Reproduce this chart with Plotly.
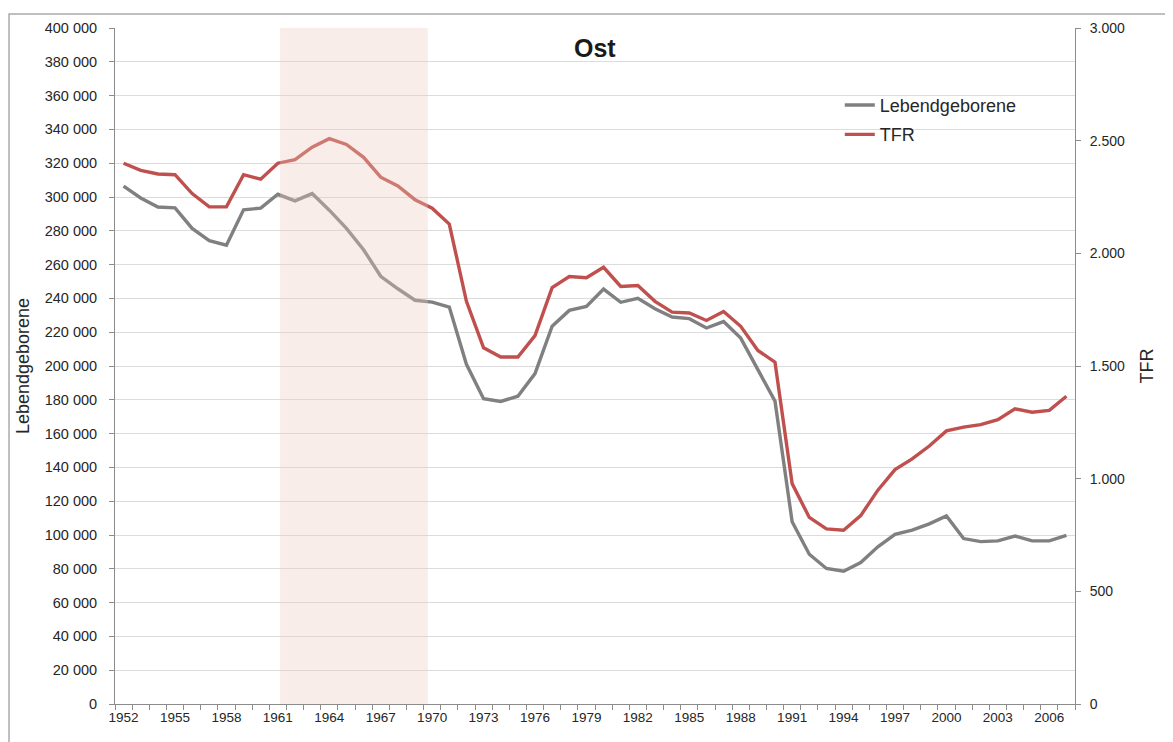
import plotly.graph_objects as go

# ---------------- data ----------------
years = list(range(1952, 2008))

lebendgeborene = [
    306400, 299400, 294100, 293600, 281400, 274200, 271500, 292400, 293400, 301600,
    297700, 302000, 292200, 281400, 268800, 253100, 245700, 238900, 237800, 234900,
    201000, 180600, 179000, 182100, 195500, 223500, 232900, 235200, 245500, 237700,
    240000, 233900, 229000, 228000, 222500, 226300, 216500, 198000, 179200, 107800,
    88600, 80200, 78600, 83700, 93000, 100400, 102900, 106600, 111300, 97900,
    96100, 96500, 99400, 96500, 96500, 99800,
]

tfr = [
    2400, 2368, 2352, 2349, 2265, 2206, 2206, 2349, 2329, 2400,
    2416, 2471, 2509, 2483, 2426, 2338, 2299, 2238, 2200, 2130,
    1787, 1581, 1540, 1540, 1635, 1848, 1897, 1892, 1938, 1853,
    1857, 1787, 1739, 1735, 1702, 1742, 1676, 1569, 1517, 978,
    828, 777, 771, 836, 949, 1040, 1088, 1145, 1212, 1229,
    1240, 1262, 1310, 1295, 1303, 1366,
]

shade_start, shade_end = 1961.13, 1969.75

left_tickvals = list(range(0, 400001, 20000))
left_ticktext = [f"{v:,}".replace(",", " ") for v in left_tickvals]
right_tickvals = list(range(0, 3001, 500))
right_ticktext = [f"{v:,}".replace(",", ".") for v in right_tickvals]
x_tickvals = years[::3]
x_boundaries = [y - 0.5 for y in years] + [years[-1] + 0.5]

# ---------------- styles ----------------
GREY = "#808080"
RED = "#C0504D"
AXIS = "#8C8C8C"
GRID = "#DCDCDC"
FONT = "Liberation Sans, Arial, sans-serif"
TXT = "#262626"

fig = go.Figure()
fig.add_trace(go.Scatter(
    x=years, y=lebendgeborene, name="Lebendgeborene", mode="lines",
    line=dict(color=GREY, width=3.4), legendgroup="a",
))
fig.add_trace(go.Scatter(
    x=years, y=tfr, name="TFR", mode="lines", yaxis="y2",
    line=dict(color=RED, width=3.4), legendgroup="b",
))

fig.update_layout(
    width=1165, height=734,
    margin=dict(l=107, r=98, t=15, b=38),
    paper_bgcolor="white", plot_bgcolor="white",
    font=dict(family=FONT, color=TXT, size=14),
    showlegend=True,
    legend=dict(
        x=0.755, y=0.913, xanchor="left", yanchor="top",
        bgcolor="rgba(0,0,0,0)", font=dict(size=18, color=TXT),
        tracegroupgap=3,
    ),
    xaxis=dict(
        range=[years[0] - 0.5, years[-1] + 0.5],
        tickmode="array", tickvals=x_tickvals,
        ticks="outside", ticklen=1, tickcolor="rgba(0,0,0,0)",
        tickfont=dict(size=13.5, color=TXT),
        showgrid=False, zeroline=False,
        showline=True, linecolor=AXIS, linewidth=1,
        minor=dict(tickmode="array", tickvals=x_boundaries, ticks="outside",
                   ticklen=5, tickcolor=AXIS, showgrid=False),
    ),
    yaxis=dict(
        range=[0, 400000],
        tickmode="array", tickvals=left_tickvals, ticktext=left_ticktext,
        ticks="outside", ticklen=5, tickcolor=AXIS,
        ticklabelstandoff=9,
        tickfont=dict(size=14.5, color=TXT),
        showgrid=True, gridcolor=GRID, gridwidth=1,
        zeroline=False, showline=True, linecolor=AXIS, linewidth=1,
        title=dict(text="Lebendgeborene", font=dict(size=18, color=TXT), standoff=10),
    ),
    yaxis2=dict(
        range=[0, 3000], overlaying="y", side="right",
        tickmode="array", tickvals=right_tickvals, ticktext=right_ticktext,
        ticks="outside", ticklen=5, tickcolor=AXIS,
        ticklabelstandoff=6,
        tickfont=dict(size=14, color=TXT),
        showgrid=False, zeroline=False,
        showline=True, linecolor=AXIS, linewidth=1,
        title=dict(text="TFR", font=dict(size=18, color=TXT), standoff=16),
    ),
    shapes=[
        dict(type="rect", xref="x", yref="paper",
             x0=shade_start, x1=shade_end, y0=0, y1=1,
             fillcolor="rgba(237,202,190,0.34)", line=dict(width=0), layer="above"),
        dict(type="rect", xref="paper", yref="paper",
             x0=-0.1104, x1=1.12, y0=-0.08, y1=1.0206,
             fillcolor="rgba(0,0,0,0)", line=dict(color="#ABABAB", width=1.5),
             layer="below"),
    ],
    annotations=[
        dict(text="<b>Ost</b>", xref="paper", yref="paper", x=0.5, y=0.970,
             xanchor="center", yanchor="middle", showarrow=False,
             font=dict(size=25, color="#1A1A1A", family=FONT)),
    ],
)

fig.write_html("out.html")
